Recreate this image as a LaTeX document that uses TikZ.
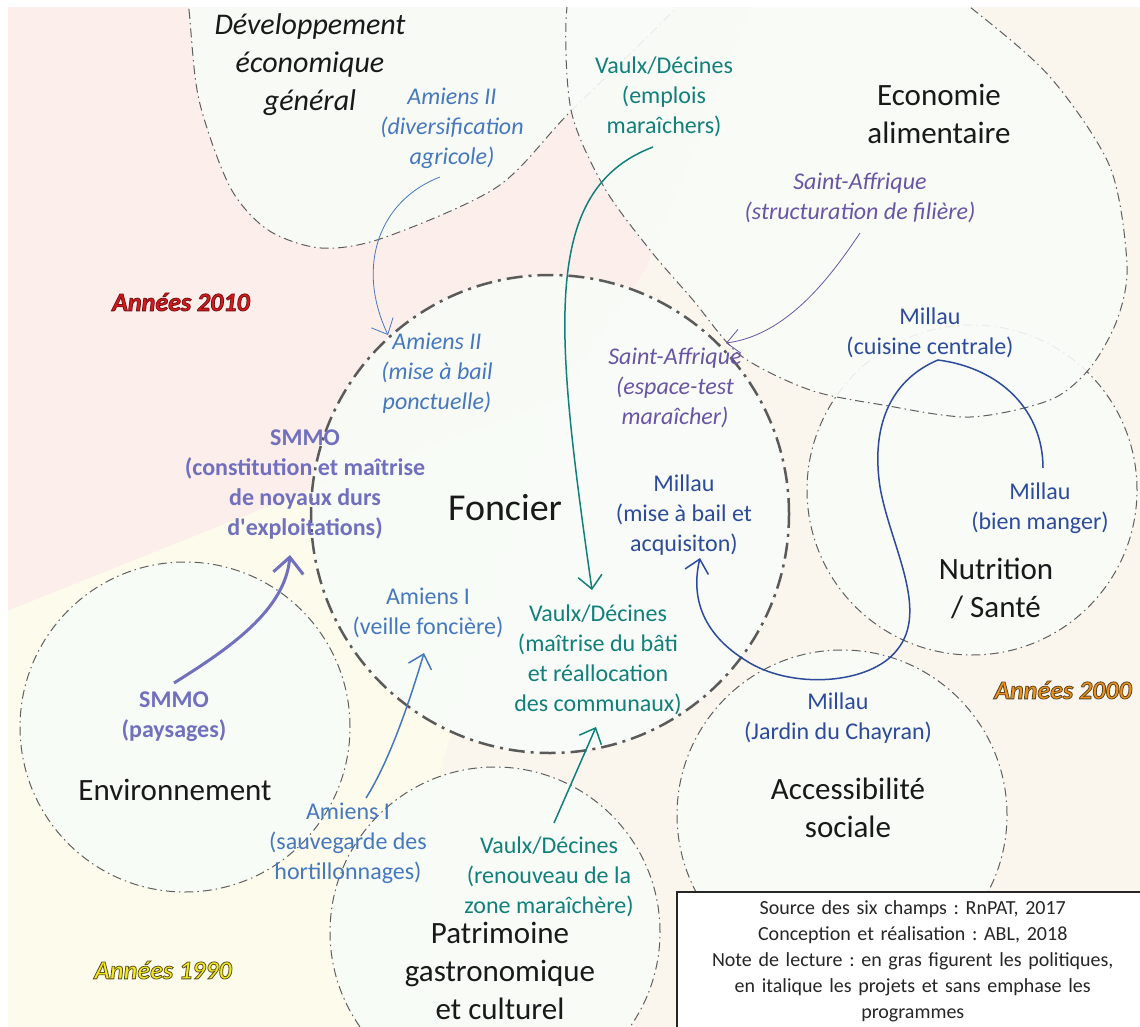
\documentclass[tikz,border=0pt]{standalone}
\usepackage{fontspec}
\setmainfont{Carlito}
\usetikzlibrary{arrows.meta,calc}
\definecolor{amiens}{RGB}{70,120,190}
\definecolor{vaulx}{RGB}{18,128,122}
\definecolor{affrique}{RGB}{105,85,165}
\definecolor{millau}{RGB}{45,75,155}
\definecolor{smmo}{RGB}{112,112,190}
\definecolor{pinkbg}{RGB}{251,238,235}
\definecolor{yellowbg}{RGB}{253,252,236}
\definecolor{beigebg}{RGB}{251,246,237}
\definecolor{champfill}{RGB}{248,252,248}
\definecolor{champline}{RGB}{95,95,95}
\definecolor{foncline}{RGB}{90,90,90}
\definecolor{an2010}{RGB}{215,25,30}
\definecolor{an2000}{RGB}{240,145,25}
\definecolor{an1990}{RGB}{245,232,30}
\newcommand{\champfont}{\fontsize{31}{38}\selectfont}
\newcommand{\projfont}{\fontsize{24}{30}\selectfont}
\newcommand{\notefont}{\fontsize{20}{26}\selectfont\frenchspacing}
\newcommand{\anfont}{\fontsize{26}{30}\selectfont\bfseries\itshape}
\newcommand{\contourpdf}[2]{\special{pdf:literal direct q #1 RG 0.8 w 2 Tr}#2\special{pdf:literal direct Q}}
\tikzset{
  champ/.style={draw=champline, line width=1pt, fill=champfill, fill opacity=0.9,
    dash pattern=on 9pt off 4pt on 1.5pt off 4pt},
  foncierbord/.style={draw=foncline, line width=2.5pt, fill=champfill, fill opacity=0.92,
    dash pattern=on 16pt off 6pt on 3pt off 6pt},
  champtexte/.style={align=center, font=\champfont, text=black!90, inner sep=0pt},
  projet/.style={align=center, font=\projfont, inner sep=0pt},
  projetit/.style={projet, font=\projfont\itshape},
  politique/.style={projet, font=\projfont\bfseries, text=smmo},
  annee/.style={font=\anfont, inner sep=0pt},
  fleche/.style={-{Straight Barb[length=13pt,width=24pt]}, line width=1.5pt},
  notebox/.style={draw=black!85, line width=1.5pt, fill=white, anchor=north west, align=center,
    text width=458pt, inner xsep=7pt, inner ysep=9pt, font=\notefont, text=black!85}
}
\begin{document}
\begin{tikzpicture}[x=1pt,y=-1pt]
\useasboundingbox[fill=white] (0,0) rectangle (1140,1027);
\begin{scope}
\clip (8,8) rectangle (1140,1027);
\fill[pinkbg] (0,0) -- (755,0) -- (647,267) -- (560,400) -- (310,490) -- (0,614) -- cycle;
\fill[yellowbg] (0,614) -- (310,490) -- (560,400) -- (443,760) -- (443,1027) -- (0,1027) -- cycle;
\fill[beigebg] (755,0) -- (1140,0) -- (1140,1027) -- (443,1027) -- (443,760) -- (560,400) -- (647,267) -- cycle;

\draw[champ] plot[smooth cycle] coordinates {(180,-80) (189,10) (199,100) (230,187) (268,230)
  (321,248) (383,238) (497,187) (570,112) (677,7) (740,-70) (450,-150)};
\draw[champ] (972,490) circle[radius=165pt];
\draw[champ] plot[smooth cycle] coordinates {(567,7) (571,110) (604,187) (650,250) (693,300)
  (740,355) (810,390) (883,405) (970,417) (1050,400) (1090,368) (1117,320) (1127,265)
  (1110,167) (1050,77) (970,7) (880,-60) (700,-80) (590,-50)};
\draw[foncierbord] (550,514) circle[radius=239pt];
\draw[champ] (185,727) circle[radius=165pt];
\draw[champ] (495,932) circle[radius=165pt];
\draw[champ] (842,815) circle[radius=165pt];

\node[champtexte, font=\fontsize{30}{38}\selectfont\itshape] (devEco) at (310,65) {Développement\\économique\\général};
\node[champtexte] (ecoAlim) at (939,114) {Economie\\alimentaire};
\node[champtexte, font=\fontsize{38}{44}\selectfont] (foncier) at (505,508) {Foncier};
\node[champtexte] (nutrition) at (996,588) {Nutrition\\/ Santé};
\node[champtexte] (access) at (848,808) {Accessibilité\\sociale};
\node[champtexte] (environ) at (175,790) {Environnement};
\node[champtexte] (patrimoine) at (500,971) {Patrimoine\\gastronomique\\et culturel};

\node[projetit, text=amiens] (ami2div) at (452,128) {Amiens II\\(diversification\\agricole)};
\node[projet, text=vaulx] (vdEmplois) at (664,97) {Vaulx/Décines\\(emplois\\maraîchers)};
\node[projetit, text=affrique] (saFiliere) at (860,198) {Saint-Affrique\\(structuration de filière)};
\node[projet, text=millau] (milCuisine) at (930,333) {Millau\\(cuisine centrale)};
\node[projetit, text=amiens] (ami2bail) at (437,373) {Amiens II\\(mise à bail\\ponctuelle)};
\node[projetit, text=affrique] (saTest) at (675,388) {Saint-Affrique\\(espace-test\\maraîcher)};
\node[politique] (smmoNoyaux) at (305,485) {SMMO\\(constitution et maîtrise\\de noyaux durs\\d\textquotesingle exploitations)};
\node[projet, text=millau] (milBail) at (684,515) {Millau\\(mise à bail et\\acquisiton)};
\node[projet, text=millau] (milManger) at (1040,508) {Millau\\(bien manger)};
\node[projet, text=amiens] (ami1Veille) at (428,613) {Amiens I\\(veille foncière)};
\node[projet, text=vaulx] (vdBati) at (598,660) {Vaulx/Décines\\(maîtrise du bâti\\et réallocation\\des communaux)};
\node[politique] (smmoPaysages) at (174,717) {SMMO\\(paysages)};
\node[projet, text=millau] (milJardin) at (838,718) {Millau\\(Jardin du Chayran)};
\node[projet, text=amiens] (ami1Sauv) at (348,843) {Amiens I\\(sauvegarde des\\hortillonnages)};
\node[projet, text=vaulx] (vdRenouveau) at (549,877) {Vaulx/Décines\\(renouveau de la\\zone maraîchère)};

\node[annee, text=an2010] (an2010) at (181,302) {\contourpdf{0.45 0.08 0.08}{Années 2010}};
\node[annee, text=an2000] (an2000) at (1063,690) {\contourpdf{0.35 0.28 0.15}{Années 2000}};
\node[annee, text=an1990] (an1990) at (163,970) {\contourpdf{0.35 0.32 0.12}{Années 1990}};

\draw[fleche, amiens, line width=0.8pt] ($(ami2div)+(-12,49)$) .. controls (380,200) and (355,265) .. ($(ami2bail)+(-49,-38)$);
\draw[fleche, vaulx] ($(vdEmplois)+(-11,50)$) .. controls (540,190) and (555,330) .. ($(vdBati)+(-6,-70)$);
\draw[fleche, affrique, line width=0.8pt] ($(saFiliere)+(0,35)$) .. controls (835,270) and (790,335) .. ($(saTest)+(51,-45)$);
\draw[fleche, millau] ($(milManger)+(3,-40)$) .. controls (1043,410) and (1000,368) .. (938,360)
  .. controls (895,378) and (870,420) .. (880,487) .. controls (890,545) and (930,610) .. (897,650)
  .. controls (870,685) and (790,690) .. (745,660) .. controls (705,635) and (690,600) .. ($(milBail)+(16,43)$);
\draw[smmo, line width=3pt, -{Straight Barb[length=16pt,width=30pt]}] ($(smmoPaysages)+(0,-34)$) .. controls (230,648) and (285,610) .. ($(smmoNoyaux)+(-15,70)$);
\draw[fleche, amiens] ($(ami1Sauv)+(18,-45)$) .. controls (390,760) and (410,700) .. ($(ami1Veille)+(-4,40)$);
\draw[fleche, vaulx] ($(vdRenouveau)+(5,-54)$) -- ($(vdBati)+(-2,67)$);

\node[notebox] (note) at (676,891) {Source des six champs : RnPAT, 2017\\Conception et réalisation : ABL, 2018\\Note de lecture : en gras figurent les politiques,\\en italique les projets et sans emphase les\\programmes};
\end{scope}
\end{tikzpicture}
\end{document}
